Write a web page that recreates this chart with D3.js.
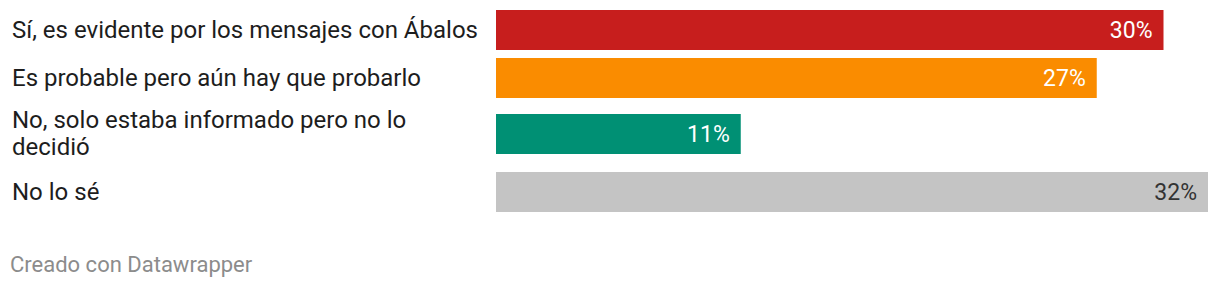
<!DOCTYPE html>
<meta charset="utf-8">
<title>Encuesta</title>
<style>
  body { margin:0; background:#fff; }
  text { font-family: Roboto, sans-serif; }
</style>
<body></body>
<script src="https://d3js.org/d3.v7.min.js"></script>
<script>
// respuestas y porcentajes
const categories = [
  'Sí, es evidente por los mensajes con Ábalos',
  'Es probable pero aún hay que probarlo',
  'No, solo estaba informado pero no lo decidió',
  'No lo sé'
]
const values = [30, 27, 11, 32]
const colors = ['#c71e1d', '#fa8c00', '#009074', '#c4c4c4']
const labelColors = ['#fff', '#fff', '#fff', '#333']

const width = 1220, height = 288
const barLeft = 496, barRight = 1208, barH = 40
const labelX = 12, labelW = 470, lineH = 27
const fs = 24

svg = d3.select('body').append('svg')
    .attr('width', width)
    .attr('height', height)

x = d3.scaleLinear().domain([0, d3.max(values)]).range([barLeft, barRight])

// wrap labels first, rows grow with line count
function wrap(str) {
  const t = svg.append('text').attr('font-size', fs)
  const words = str.split(' ')
  let lines = [], cur = ''
  words.forEach(w => {
    const test = cur ? cur + ' ' + w : w
    t.text(test)
    if (t.node().getComputedTextLength() > labelW && cur) { lines.push(cur); cur = w }
    else cur = test
  })
  lines.push(cur)
  t.remove()
  return lines
}

let y = 10
const rows = categories.map((c, i) => {
  const lines = wrap(c)
  const n = lines.length - 1
  const r = {cat: c, val: values[i], lines, top: y + n * 8, i}
  y += barH + 8 + n * 18
  return r
})

const g = svg.selectAll('g.row').data(rows).join('g').attr('class', 'row')

g.append('rect')
    .attr('x', x(0))
    .attr('y', d => d.top)
    .attr('width', d => x(d.val) - x(0))
    .attr('height', barH)
    .attr('fill', d => colors[d.i])

g.append('text')
    .attr('x', d => x(d.val) - 11)
    .attr('y', d => d.top + barH / 2)
    .attr('dy', '0.35em')
    .attr('text-anchor', 'end')
    .attr('font-size', 23)
    .attr('fill', d => labelColors[d.i])
    .text(d => d.val + '%')

g.append('text')
    .attr('font-size', fs)
    .attr('fill', '#1d1d1d')
    .each(function(d) {
      const n = d.lines.length
      const y0 = d.top + barH / 2 - (n - 1) * lineH / 2
      d3.select(this).selectAll('tspan').data(d.lines).join('tspan')
          .attr('x', labelX)
          .attr('y', (l, k) => y0 + k * lineH)
          .attr('dy', '0.33em')
          .text(l => l)
    })

svg.append('text')
    .attr('x', 10)
    .attr('y', 272)
    .attr('font-size', 22)
    .attr('fill', '#8c8c8c')
    .text('Creado con Datawrapper')
</script>
